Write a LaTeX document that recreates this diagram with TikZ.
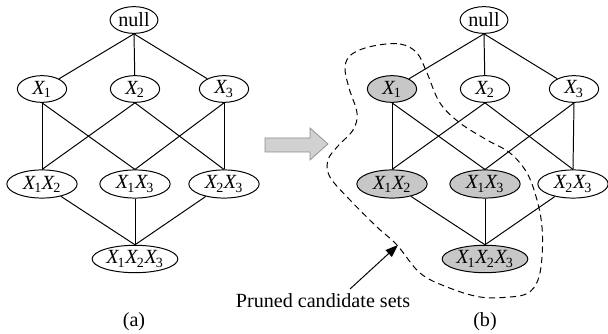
\documentclass[tikz,border=0pt]{standalone}
\usepackage{fontspec}
\setmainfont{Liberation Serif}
\usetikzlibrary{positioning, calc, shapes, arrows.meta}

\newcommand{\xs}[1]{\textit{X}\kern-0.08em\textsubscript{#1}}

\tikzset{
	set/.style={draw, ellipse, inner sep=0pt, line width=0.7pt, minimum width=35pt, minimum height=19pt},
	pair/.style={set, minimum width=50pt, minimum height=20pt},
	triple/.style={set, minimum width=61pt, minimum height=19.5pt},
	pruned/.style={fill=black!22},
}

\begin{document}
\begin{tikzpicture}[x=0.025cm, y=-0.025cm, line width=0.7pt, font=\fontsize{14.3}{16}\selectfont]
			\useasboundingbox (0,0) rectangle (608,334);

			% (a) full lattice
			\node[set, minimum width=34pt] (anull) at (134, 20)  {null};
			\node[set] (a1)   at (42, 89)  {\xs{1}};
			\node[set] (a2)   at (135, 89)  {\xs{2}};
			\node[set] (a3)   at (224, 89)  {\xs{3}};
			\node[pair] (a12)   at (42, 184)  {\xs{1}\xs{2}};
			\node[pair] (a13)   at (135, 184)  {\xs{1}\xs{3}};
			\node[pair] (a23)   at (224, 184)  {\xs{2}\xs{3}};
			\node[triple] (a123)   at (135, 259)  {\xs{1}\xs{2}\xs{3}};
			\node (alabel) at (134, 322) {(a)};

			\draw (anull.south) -- (a1);
			\draw (anull.south) -- (a2);
			\draw (anull.south) -- (a3);
			\draw (a1.south) -- (a12.north);
			\draw (a1.south) -- (a13.north);
			\draw (a2.south) -- (a12.north);
			\draw (a2.south) -- (a23.north);
			\draw (a3.south) -- (a13.north);
			\draw (a3.south) -- (a23.north);
			\draw (a12) -- (a123.north);
			\draw (a13.south) -- (a123.north);
			\draw (a23) -- (a123.north);

			% block arrow
			\draw[draw=black!45, fill=black!18, line width=0.5pt] (265,138) -- (310,138) -- (310,128) -- (328,144) -- (310,160) -- (310,152) -- (265,152) -- cycle;

			% (b) pruned lattice
			\node[set, minimum width=34pt] (bnull) at (484, 20)  {null};
			\node[set, pruned] (b1)   at (392, 89)  {\xs{1}};
			\node[set] (b2)   at (485, 89)  {\xs{2}};
			\node[set] (b3)   at (574, 89)  {\xs{3}};
			\node[pair, pruned] (b12)   at (392, 184)  {\xs{1}\xs{2}};
			\node[pair, pruned] (b13)   at (485, 184)  {\xs{1}\xs{3}};
			\node[pair] (b23)   at (573, 184)  {\xs{2}\xs{3}};
			\node[triple, pruned] (b123)   at (485, 259)  {\xs{1}\xs{2}\xs{3}};
			\node (blabel) at (485, 322) {(b)};

			\draw (bnull.south) -- (b1);
			\draw (bnull.south) -- (b2);
			\draw (bnull.south) -- (b3);
			\draw (b1.south) -- (b12.north);
			\draw (b1.south) -- (b13.north);
			\draw (b2.south) -- (b12.north);
			\draw (b2.south) -- (b23.north);
			\draw (b3.south) -- (b13.north);
			\draw (b3.south) -- (b23.north);
			\draw (b12) -- (b123.north);
			\draw (b13.south) -- (b123.north);
			\draw (b23) -- (b123.north);

			% pruned region
			\draw[dash pattern=on 4.5pt off 3pt] plot[smooth cycle, tension=0.6] coordinates {
				(373,46) (400,44) (417,53) (427,73) (440,103) (460,123) (487,140) (510,153)
				(527,173) (537,200) (542,227) (542,257) (538,280) (528,293) (510,297) (480,297)
				(447,287) (420,273) (397,245) (377,227) (350,200) (330,177) (328,160) (338,146)
				(353,130) (357,113) (349,88) (345,67) (352,54)};
			\coordinate (tip) at (398,245);
			\node[anchor=base] (note) at (323,308) {Pruned candidate sets};
			\draw[-{Triangle[length=9pt, width=6.5pt]}] (350,289) -- (tip);
		\end{tikzpicture}
\end{document}
